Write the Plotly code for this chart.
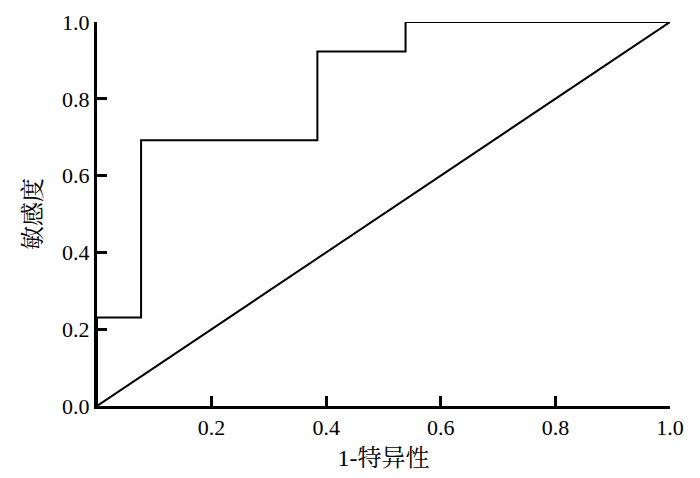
import plotly.graph_objects as go

# ROC curve points (1-specificity, sensitivity)
fpr = [0.0, 0.0, 1/13, 1/13, 5/13, 5/13, 7/13, 7/13, 1.0]
tpr = [0.0, 3/13, 3/13, 9/13, 9/13, 12/13, 12/13, 1.0, 1.0]
ref_x = [0.0, 1.0]
ref_y = [0.0, 1.0]
x_ticks = [0.2, 0.4, 0.6, 0.8, 1.0]
y_ticks = [0.0, 0.2, 0.4, 0.6, 0.8, 1.0]
x_title = "1-特异性"
y_title = "敏感度"

font_fam = "Liberation Serif, Noto Serif CJK SC, Noto Sans CJK SC"

fig = go.Figure()
fig.add_trace(go.Scatter(x=fpr, y=tpr, mode="lines",
                         line=dict(color="black", width=2), cliponaxis=False,
                         showlegend=False))
fig.add_trace(go.Scatter(x=ref_x, y=ref_y, mode="lines",
                         line=dict(color="black", width=2), cliponaxis=False,
                         showlegend=False))

fig.update_layout(
    width=692, height=470,
    margin=dict(l=89, r=30, t=14, b=72, autoexpand=False),
    plot_bgcolor="white", paper_bgcolor="white",
    font=dict(family=font_fam, size=22, color="black"),
    xaxis=dict(range=[0, 1], tickvals=x_ticks, ticktext=[f"{v:.1f}" for v in x_ticks],
               ticks="inside", ticklen=10, tickwidth=3, tickcolor="black",
               tickfont=dict(family=font_fam, size=22, color="black"),
               showline=True, linecolor="black", linewidth=3, showgrid=False,
               zeroline=False, automargin=False,
               title=dict(text=x_title, standoff=10,
                          font=dict(family=font_fam, size=24, color="black"))),
    yaxis=dict(range=[0, 1], tickvals=y_ticks, ticktext=[f"{v:.1f}" for v in y_ticks],
               ticks="inside", ticklen=10, tickwidth=3, tickcolor="black",
               tickfont=dict(family=font_fam, size=22, color="black"),
               showline=True, linecolor="black", linewidth=3, showgrid=False,
               zeroline=False, automargin=False,
               title=dict(text=y_title, standoff=14,
                          font=dict(family=font_fam, size=24, color="black"))),
)

fig.write_html("out.html")
